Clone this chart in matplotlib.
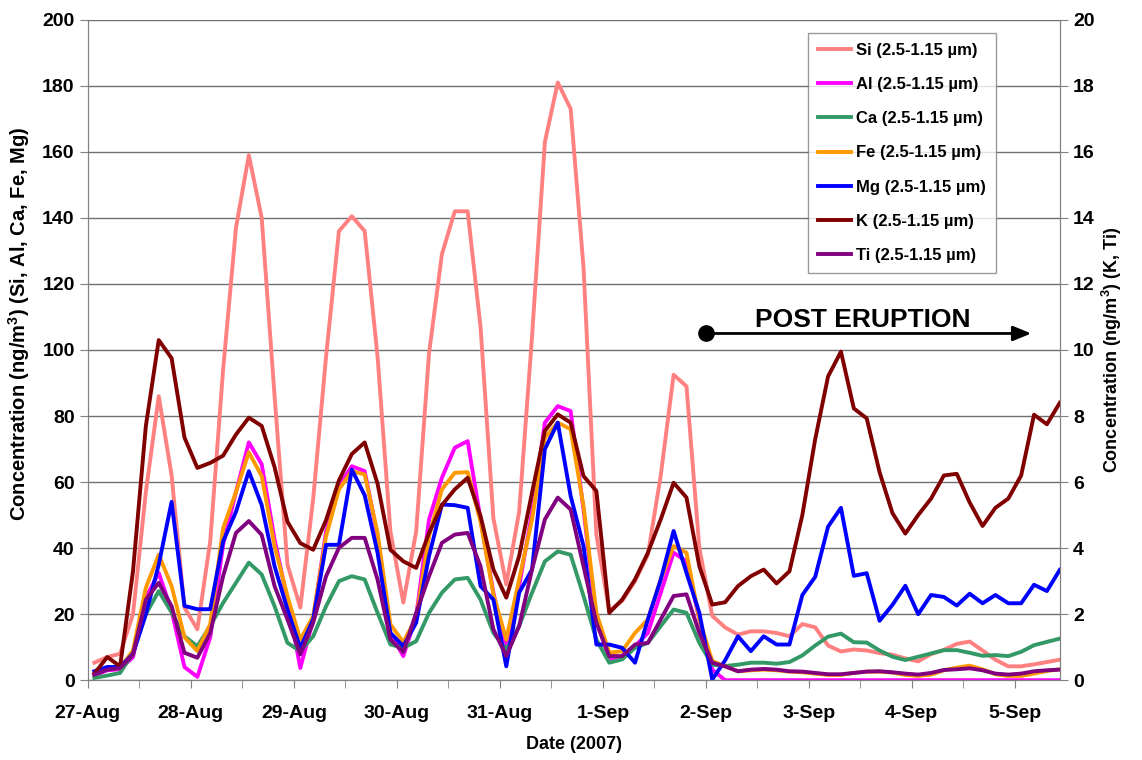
import pandas as pd
import matplotlib
matplotlib.use("Agg")
import matplotlib.pyplot as plt
import matplotlib.dates as mdates

plt.rcParams["font.family"] = ["Liberation Sans", "DejaVu Sans"]
plt.rcParams["mathtext.default"] = "regular"

# 3-hour samples, 27-Aug 01:30 to 5-Sep 10:30 (2007)
times = pd.date_range("2007-08-27 01:30", periods=76, freq="3h")

si = [5.3, 7, 8, 20, 57, 86, 62, 22, 15.4, 42, 94, 137, 159, 140, 86, 35, 22, 55, 98, 136,
      140.5, 136, 98, 45, 23.5, 45, 99, 129, 142, 142, 107, 49, 29, 51, 104, 163, 181, 173, 125, 44,
      21, 24, 30, 38, 62, 92.5, 89, 40, 19.5, 16, 13.8, 14.8, 14.8, 14.3, 13.3, 17, 16, 10.5, 8.7, 9.3,
      9, 8.2, 7.7, 6.6, 5.7, 7.9, 9.2, 11, 11.7, 9, 6.2, 4.2, 4.2, 4.8, 5.5, 6.2]
al = [1.5, 3, 3.3, 7, 25, 32.5, 21, 4, 1, 13, 41, 57, 72, 65.4, 42.6, 24.4, 3.7, 18.4, 45, 58.8,
      64.8, 63.3, 43.6, 14.3, 7.3, 19.4, 48.7, 61.3, 70.4, 72.4, 48.7, 26.5, 9.3, 28.5, 50.7, 78, 83, 81.5, 51.7, 18.4,
      6.3, 7.3, 10.3, 14.3, 26.5, 38.6, 36, 18.4, 3.2, 0, 0, 0, 0, 0, 0, 0, 0, 0, 0, 0,
      0, 0, 0, 0, 0, 0, 0, 0, 0, 0, 0, 0, 0, 0, 0, 0]
ca = [0.7, 1.4, 2.2, 8.3, 20, 27, 20.5, 13.3, 10.3, 16.4, 23.4, 29.5, 35.6, 32, 22.4, 11.3, 8.8, 13.3, 22.4, 30,
      31.5, 30.5, 20.4, 10.8, 9.8, 11.8, 20.4, 26.5, 30.5, 31, 24.4, 14.3, 9.3, 16.4, 26.5, 36, 39, 38, 25.5, 12.3,
      5.3, 6.3, 9.8, 11.3, 16.4, 21.4, 20.4, 11.3, 4.7, 4.3, 4.7, 5.3, 5.3, 5, 5.5, 7.5, 10.5, 13.2, 14.1, 11.5,
      11.4, 9, 7.1, 6.1, 7.1, 8.1, 9.1, 9.1, 8.3, 7.4, 7.6, 7.3, 8.6, 10.6, 11.6, 12.6]
fe = [2, 3.4, 3.7, 9, 28, 38, 28.5, 13, 8.8, 17, 46, 57, 69, 61.8, 40.6, 25.5, 12.3, 19.4, 43.6, 57.8,
      63.3, 62.3, 44.6, 16.9, 11.5, 18.9, 43.6, 57.8, 62.8, 63, 48, 26, 12.3, 30.5, 48.7, 73.4, 78, 76, 52.7, 20.4,
      8.3, 8.8, 14.3, 18.4, 30.5, 40.6, 38.6, 18.4, 5.8, 4.2, 2.7, 3, 3.2, 3, 2.6, 2.4, 2, 1.6, 1.6, 2.2,
      2.6, 2.6, 2.3, 1.6, 1.3, 1.7, 3, 3.8, 4.4, 3.3, 1.8, 1.3, 1.3, 2, 2.8, 3.3]
mg = [2.7, 4, 4, 8, 20, 35, 54, 22.5, 21.5, 21.5, 42, 51, 63.3, 53, 34.5, 21.4, 9.8, 18.4, 41, 41,
      63.8, 56, 38.6, 14.3, 10.3, 17.4, 37.6, 53.2, 53, 52.2, 28.5, 24.4, 4.2, 26.5, 33.5, 70, 78, 55.8, 40.6, 10.8,
      10.8, 9.8, 5.3, 18.4, 30.5, 45.2, 32.5, 20.4, 0.2, 6, 13.3, 8.8, 13.3, 10.8, 10.8, 25.8, 31.3, 46.5, 52.2, 31.6,
      32.4, 18, 22.8, 28.6, 20, 25.8, 25.2, 22.6, 26.2, 23.3, 25.8, 23.3, 23.3, 28.9, 27, 33.4]
k = [0.2, 0.7, 0.42, 3.3, 7.7, 10.3, 9.75, 7.35, 6.43, 6.58, 6.8, 7.44, 7.95, 7.7, 6.45, 4.8, 4.15, 3.95, 4.85, 6.05,
     6.85, 7.2, 5.95, 3.95, 3.6, 3.4, 4.46, 5.3, 5.78, 6.13, 4.97, 3.35, 2.5, 3.76, 5.68, 7.55, 8.05, 7.8, 6.18, 5.73,
     2.04, 2.44, 3.05, 3.86, 4.87, 5.98, 5.53, 3.45, 2.29, 2.36, 2.85, 3.15, 3.35, 2.93, 3.3, 5.0, 7.3, 9.2, 9.95, 8.23,
     7.93, 6.3, 5.06, 4.44, 5.0, 5.5, 6.2, 6.25, 5.38, 4.67, 5.22, 5.5, 6.2, 8.04, 7.75, 8.4]
ti = [0.17, 0.32, 0.37, 0.78, 2.44, 2.95, 2.24, 0.83, 0.68, 1.43, 3.15, 4.46, 4.82, 4.4, 2.85, 1.84, 0.78, 1.74, 3.15, 4.01,
      4.31, 4.31, 3.05, 1.23, 0.85, 2.04, 3.15, 4.16, 4.41, 4.46, 3.45, 1.54, 0.73, 1.64, 3.35, 4.87, 5.53, 5.17, 3.45, 1.74,
      0.73, 0.73, 1.08, 1.13, 1.84, 2.55, 2.6, 1.43, 0.53, 0.42, 0.27, 0.32, 0.34, 0.32, 0.27, 0.26, 0.22, 0.18, 0.18, 0.22,
      0.26, 0.27, 0.24, 0.2, 0.17, 0.22, 0.31, 0.33, 0.36, 0.3, 0.2, 0.17, 0.2, 0.27, 0.3, 0.32]

left_series = [("Si", si, "#FF8080"), ("Al", al, "#FF00FF"), ("Ca", ca, "#339966"),
               ("Fe", fe, "#FF9900"), ("Mg", mg, "#0000FF")]
right_series = [("K", k, "#800000"), ("Ti", ti, "#800080")]

fig = plt.figure(figsize=(11.42, 7.6), dpi=100)
ax = fig.add_axes([0.077, 0.105, 0.851, 0.869])
ax2 = ax.twinx()

lw = 2.8
handles = []
for name, vals, col in left_series:
    h, = ax.plot(times, vals, color=col, lw=lw, label=name + " (2.5-1.15 µm)")
    handles.append(h)
for name, vals, col in right_series:
    h, = ax2.plot(times, vals, color=col, lw=lw, label=name + " (2.5-1.15 µm)")
    handles.append(h)

ax.set_ylim(0, 200)
ax2.set_ylim(0, 20)
ax.set_yticks(range(0, 201, 20))
ax2.set_yticks(range(0, 21, 2))
ax.set_xlim(pd.Timestamp("2007-08-27 00:00"), pd.Timestamp("2007-09-05 10:30"))
ax.yaxis.grid(True, color="#707070", lw=1)
ax.set_axisbelow(True)

ax.xaxis.set_major_locator(mdates.DayLocator())
ax.xaxis.set_minor_locator(mdates.HourLocator(byhour=[12]))
ax.xaxis.set_major_formatter(mdates.DateFormatter("%-d-%b"))

for a in (ax, ax2):
    for s in a.spines.values():
        s.set_color("#808080")
    a.spines["top"].set_visible(False)
    a.tick_params(axis="both", which="both", direction="out", color="#808080", length=6,
                  labelsize=14)
    for lab in a.get_xticklabels() + a.get_yticklabels():
        lab.set_fontweight("bold")
ax.tick_params(axis="x", which="major", pad=12)

ax.set_xlabel("Date (2007)", fontsize=13, fontweight="bold", labelpad=10)
ax.set_ylabel("Concentration (ng/m$^3$) (Si, Al, Ca, Fe, Mg)", fontsize=14.5, fontweight="bold")
ax.yaxis.set_label_coords(-0.058, 0.54)
ax2.set_ylabel("Concentration (ng/m$^3$) (K, Ti)", fontsize=13, fontweight="bold")

leg = ax2.legend(handles=handles, loc="upper left", bbox_to_anchor=(0.741, 0.98), borderaxespad=0,
                 prop={"weight": "bold", "size": 12}, fancybox=False, edgecolor="#808080",
                 handlelength=2.0, handletextpad=0.3, labelspacing=1.15, borderpad=0.6)
leg.get_frame().set_linewidth(1)

# post eruption marker
start = pd.Timestamp("2007-09-02 00:00")
end = pd.Timestamp("2007-09-05 04:30")
ax.annotate("", xy=(end, 105), xytext=(start, 105),
            arrowprops=dict(arrowstyle="-|>,head_length=1.1,head_width=0.45", color="black", lw=2))
ax.plot([start], [105], "o", color="black", ms=11)
ax.text(pd.Timestamp("2007-09-03 12:30"), 107, "POST ERUPTION", fontsize=19, fontweight="bold",
        ha="center", va="baseline")

fig.savefig("out.png", dpi=100)
